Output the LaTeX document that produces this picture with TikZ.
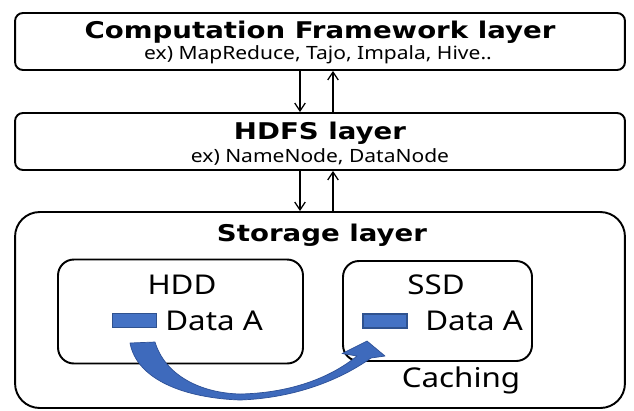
\documentclass[tikz,border=0pt]{standalone}
\usepackage{fontspec}
\setmainfont{Noto Sans}[FakeStretch=1.15]
\newfontfamily\headfont{DejaVu Sans}[FakeStretch=1.2]
\usetikzlibrary{arrows.meta}
\definecolor{blockfill}{RGB}{68,114,196}
\definecolor{blockedge}{RGB}{47,82,143}
\definecolor{arrowfill}{RGB}{62,106,188}
\definecolor{arrowedge}{RGB}{45,80,150}
\begin{document}
\begin{tikzpicture}[x=0.02cm,y=-0.02cm,
  layerbox/.style={draw, line width=1.1pt, rounded corners=4.5pt,
    minimum width=12.2cm, minimum height=1.14cm, inner sep=0pt},
  storebox/.style={draw, line width=1.1pt, rounded corners=14pt,
    minimum width=12.2cm, minimum height=3.92cm, inner sep=0pt},
  devbox/.style={draw, line width=1.1pt, rounded corners=9pt, inner sep=0pt},
  title/.style={inner sep=0pt, font=\headfont\bfseries\fontsize{13.1}{15}\selectfont},
  subtitle/.style={inner sep=0pt, font=\fontsize{10.4}{12}\selectfont},
  biglabel/.style={inner sep=0pt, font=\fontsize{15.5}{18}\selectfont},
  datablock/.style={draw=blockedge, fill=blockfill, line width=0.6pt,
    minimum width=0.88cm, minimum height=0.28cm, inner sep=0pt},
  flow/.style={line width=0.7pt, -{Straight Barb[length=4.5pt,width=6pt]}}]
\useasboundingbox (0,0) rectangle (634,410);
\fill[white] (0,0) rectangle (634,410);

% layer boxes
\node[layerbox] (cf) at (320,41.5) {};
\node[layerbox] (hdfs) at (320,141.5) {};
\node[storebox] (store) at (320,310) {};

% layer titles
\node[title] (cft) at (320,32) {Computation Framework layer};
\node[subtitle] (cfs) at (318,55) {ex) MapReduce, Tajo, Impala, Hive..};
\node[title] (hdfst) at (320,133) {HDFS layer};
\node[subtitle] (hdfss) at (320,157) {ex) NameNode, DataNode};
\node[title] (storet) at (322,235) {Storage layer};

% device boxes
\node[devbox, minimum width=4.9cm, minimum height=2.08cm] (hdd) at (180.5,311.5) {};
\node[devbox, minimum width=3.78cm, minimum height=2.0cm] (ssd) at (437.5,311) {};
\node[biglabel] (hddt) at (182,285) {HDD};
\node[biglabel] (ssdt) at (436,285) {SSD};
\node[datablock] (hddblk) at (134.5,320.5) {};
\node[datablock] (ssdblk) at (385,321) {};
\node[biglabel, anchor=west] (hddd) at (165,321) {Data A};
\node[biglabel, anchor=west] (ssdd) at (425,321) {Data A};
\node[biglabel] (cache) at (461,380) {Caching};

% request / response arrows between layers
\coordinate (dn) at (300,0);
\coordinate (up) at (333,0);
\draw[flow] (cf.south -| dn) -- (hdfs.north -| dn);
\draw[flow] (hdfs.north -| up) -- (cf.south -| up);
\draw[flow] (hdfs.south -| dn) -- (store.north -| dn);
\draw[flow] (store.north -| up) -- (hdfs.south -| up);

% caching arrow from HDD to SSD
\filldraw[fill=arrowfill, draw=arrowedge, line width=0.4pt, line join=round]
  (130,343) .. controls (137,380) and (185,398) .. (240,400)
  .. controls (295,398) and (340,380) .. (371,358)
  -- (385,356) -- (367,341) -- (342,353.5) -- (357,356)
  .. controls (330,378) and (290,393) .. (240,394)
  .. controls (200,393) and (165,375) .. (155,342) -- cycle;
\end{tikzpicture}
\end{document}
